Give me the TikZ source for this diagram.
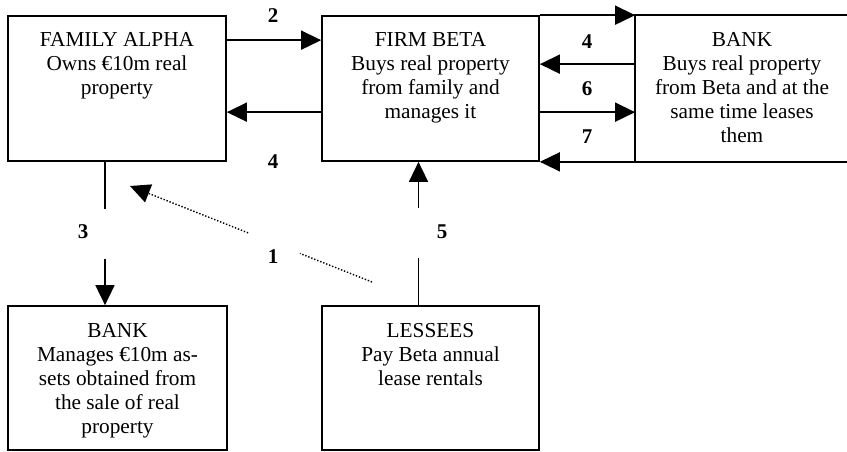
\documentclass[tikz,border=0pt]{standalone}
\usepackage{fontspec}
\setmainfont{Liberation Serif}
\usetikzlibrary{arrows.meta,calc}
\begin{document}
\begin{tikzpicture}[x=1pt,y=-1pt,
  box/.style={rectangle,inner sep=0pt,line width=1.7pt},
  txt/.style={anchor=north,align=center,inner sep=0pt,font=\fontsize{21.3}{24}\selectfont},
  num/.style={inner sep=1pt,font=\fontsize{21}{24}\selectfont\bfseries},
  arr/.style={line width=1.6pt,-{Triangle[length=20pt,width=19pt]}},
  gapped/.style={dash pattern=on 47pt off 50pt on 200pt},
  dotline/.style={line width=1.4pt,dash pattern=on 1.4pt off 1.8pt}]
\useasboundingbox (0,0) rectangle (847,451);
% boxes
\node[box,draw,minimum width=218pt,minimum height=145pt] (fa) at (117,88.5) {};
\node[box,draw,minimum width=217pt,minimum height=145pt] (beta) at (430.5,88.5) {};
\node[box,minimum width=212pt,minimum height=145pt] (bankR) at (742,88.5) {};
\draw[line width=1.7pt] (bankR.north east) -- (bankR.north west) -- (bankR.south west) -- (bankR.south east);
\node[box,draw,minimum width=219pt,minimum height=144pt] (bank2) at (117.5,378) {};
\node[box,draw,minimum width=217pt,minimum height=144pt] (les) at (430.5,378) {};
% texts
\node[txt] (tfa) at ([yshift=-17.5pt]fa.north) {FAMILY ALPHA\\Owns €10m real\\property};
\node[txt] (tbeta) at ([yshift=-17.5pt]beta.north) {FIRM BETA\\Buys real property\\from family and\\manages it};
\node[txt] (tbankR) at ([yshift=-17.5pt]bankR.north) {BANK\\Buys real property\\from Beta and at the\\same time leases\\them};
\node[txt] (tbank2) at ([yshift=-18pt]bank2.north) {BANK\\Manages €10m as-\\sets obtained from\\the sale of real\\property};
\node[txt] (tles) at ([yshift=-18pt]les.north) {LESSEES\\Pay Beta annual\\lease rentals};
% connectors top row
\draw[arr] ([yshift=-25pt]fa.north east) -- ([yshift=-25pt]beta.north west);
\draw[arr] ([yshift=-97pt]beta.north west) -- ([yshift=-97pt]fa.north east);
\draw[arr] (beta.north east) -- (bankR.north west);
\draw[arr] ([yshift=-49pt]bankR.north west) -- ([yshift=-49pt]beta.north east);
\draw[arr] ([yshift=-97pt]beta.north east) -- ([yshift=-97pt]bankR.north west);
\draw[arr] (bankR.south west) -- (beta.south east);
% vertical connectors
\draw[arr,gapped] ([xshift=-12pt]fa.south) -- ([xshift=-12pt]fa.south |- bank2.north);
\draw[arr,gapped] ([xshift=-12pt]les.north) -- ([xshift=-12pt]les.north |- beta.south);
% dotted connector 1
\coordinate (d1) at (372,282);
\coordinate (d2) at (130,186);
\draw[dotline] (d1) -- ($(d1)!0.2975!(d2)$);
\draw[dotline,-{Triangle[length=20pt,width=19pt]}] ($(d1)!0.512!(d2)$) -- (d2);
% number labels
\node[num] (n2) at (273,16) {2};
\node[num] (n4a) at (273,162) {4};
\node[num] (n4b) at (587,42) {4};
\node[num] (n6) at (587,89) {6};
\node[num] (n7) at (587,137) {7};
\node[num] (n3) at (83,232) {3};
\node[num] (n5) at (442,232) {5};
\node[num] (n1) at (273,257) {1};
\end{tikzpicture}
\end{document}
